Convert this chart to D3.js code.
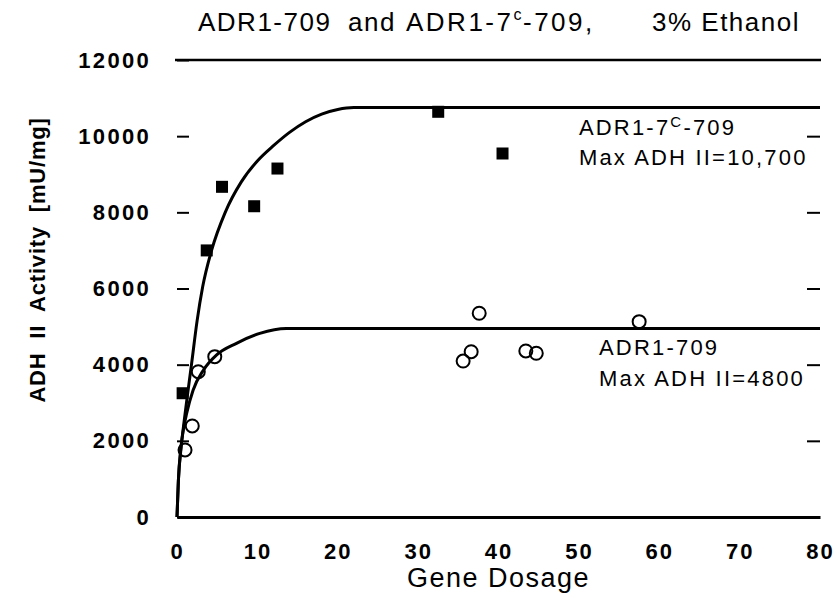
<!DOCTYPE html>
<html>
<head>
<meta charset="utf-8">
<script src="https://cdn.jsdelivr.net/npm/d3@7"></script>
<style>
  body { margin: 0; background: #fff; }
  text { font-family: "Liberation Sans", Arial, Helvetica, sans-serif; fill: #000; white-space: pre; }
</style>
</head>
<body>
<div class="chart"></div>
<script>
// ADR1-7c-709, filled squares
const gene7c = [0.7, 3.7, 5.6, 9.6, 12.5, 32.5, 40.5]
const act7c  = [3250, 7000, 8670, 8160, 9150, 10640, 9545]

// ADR1-709, open circles
const gene709 = [1.0, 1.9, 2.65, 4.7, 35.6, 36.6, 37.6, 43.4, 44.7, 57.5]
const act709  = [1760, 2390, 3815, 4210, 4095, 4340, 5350, 4360, 4300, 5130]

// fitted curves as drawn in the figure
const fit7cX = [0, 0.17, 0.5, 0.85, 1.3, 1.8, 2.5, 3.2, 4.3, 6, 8, 10, 12, 14, 16, 18, 20, 22, 80]
const fit7cY = [0, 950, 1800, 2450, 3200, 4000, 5150, 6050, 7000, 8000, 8800, 9350, 9750, 10100, 10380, 10580, 10700, 10750, 10750]
const fit709X = [0, 0.17, 0.5, 0.8, 1.2, 2, 3.3, 4.9, 7.4, 10.3, 13.6, 80]
const fit709Y = [0, 950, 1850, 2300, 2720, 3330, 3860, 4250, 4560, 4820, 4950, 4950]

const xTicks = [0, 10, 20, 30, 40, 50, 60, 70, 80]
const yTicks = [0, 2000, 4000, 6000, 8000, 10000, 12000]
const rightTicks = [2000, 4000, 6000, 8000, 10000]

const margin = ({top: 60, right: 20, bottom: 83, left: 177})
const width = 840 - margin.left - margin.right,
  height = 600 - margin.top - margin.bottom;

const svg = d3.select(".chart").append("svg")
  .attr("width", 840)
  .attr("height", 600)

const g = svg.append("g")
  .attr("transform", "translate(" + margin.left + "," + margin.top + ")")

const x = d3.scaleLinear().domain([0, 80]).range([0, width])
const y = d3.scaleLinear().domain([0, 12000]).range([height, 0])

// left ticks + labels
const yAxisGroup = g.append("g")
  .call(d3.axisLeft(y).tickValues(yTicks).tickSize(-12).tickPadding(26).tickFormat(d3.format("d")))
yAxisGroup.select(".domain").remove()
yAxisGroup.selectAll(".tick line").attr("stroke-width", 2)
yAxisGroup.selectAll("text")
  .attr("font-size", 22).attr("font-weight", "bold").attr("letter-spacing", 2.3)
  .style("font-family", "'Liberation Sans', Arial, sans-serif")

// right ticks
const rAxisGroup = g.append("g")
  .attr("transform", `translate(${width},0)`)
  .call(d3.axisRight(y).tickValues(rightTicks).tickSize(-13).tickFormat(""))
rAxisGroup.select(".domain").remove()
rAxisGroup.selectAll(".tick line").attr("stroke-width", 2)

// bottom axis
const xAxisGroup = g.append("g")
  .attr("transform", `translate(0,${height})`)
  .call(d3.axisBottom(x).tickValues(xTicks).tickSize(0).tickSizeOuter(0).tickPadding(26))
xAxisGroup.select(".domain").attr("stroke-width", 3)
xAxisGroup.selectAll("text")
  .attr("font-size", 22).attr("font-weight", "bold").attr("letter-spacing", 2)
  .style("font-family", "'Liberation Sans', Arial, sans-serif")

// top frame line
g.append("line")
  .attr("x1", x(0) - 2).attr("x2", x(80) + 1)
  .attr("y1", y(12000)).attr("y2", y(12000))
  .attr("stroke", "black").attr("stroke-width", 2.5)

// curves
const line = d3.line()
  .x(d => x(d[0]))
  .y(d => y(d[1]))
  .curve(d3.curveMonotoneX)

g.append("path")
  .datum(d3.zip(fit7cX, fit7cY))
  .attr("d", line)
  .attr("fill", "none").attr("stroke", "black").attr("stroke-width", 3)

g.append("path")
  .datum(d3.zip(fit709X, fit709Y))
  .attr("d", line)
  .attr("fill", "none").attr("stroke", "black").attr("stroke-width", 3)

// points
g.append("g").selectAll("rect")
  .data(d3.zip(gene7c, act7c))
  .join("rect")
  .attr("x", d => x(d[0]) - 6)
  .attr("y", d => y(d[1]) - 6)
  .attr("width", 12).attr("height", 12)
  .attr("fill", "black")

g.append("g").selectAll("circle")
  .data(d3.zip(gene709, act709))
  .join("circle")
  .attr("cx", d => x(d[0]))
  .attr("cy", d => y(d[1]))
  .attr("r", 6.5)
  .attr("fill", "none").attr("stroke", "black").attr("stroke-width", 2)

// labels on the curves
const lab1 = g.append("text").attr("x", x(50)).attr("y", y(10000) - 1)
  .attr("font-size", 22).attr("letter-spacing", 2.2)
lab1.append("tspan").text("ADR1-7")
lab1.append("tspan").text("C").attr("font-size", 15).attr("dy", -8)
lab1.append("tspan").text("-709").attr("dy", 8)
g.append("text").attr("x", x(50)).attr("y", y(9250))
  .attr("font-size", 22).attr("letter-spacing", 2.2)
  .text("Max ADH II=10,700")

g.append("text").attr("x", x(52.5)).attr("y", y(4250))
  .attr("font-size", 22).attr("letter-spacing", 2.2)
  .text("ADR1-709")
g.append("text").attr("x", x(52.5)).attr("y", y(3450))
  .attr("font-size", 22).attr("letter-spacing", 2.2)
  .text("Max ADH II=4800")

// title
const title = svg.append("text").attr("y", 31).attr("font-size", 26).attr("letter-spacing", 1.5)
title.append("tspan").attr("x", 198).text("ADR1-709")
title.append("tspan").attr("x", 348).text("and")
title.append("tspan").attr("x", 406).attr("letter-spacing", 2.5).text("ADR1-7")
title.append("tspan").text("c").attr("font-size", 16).attr("dy", -11)
title.append("tspan").text("-709,").attr("letter-spacing", 2.5).attr("dy", 11)
title.append("tspan").attr("x", 652).text("3% Ethanol")

// axis titles
svg.append("text")
  .attr("x", margin.left + x(40)).attr("y", 587)
  .attr("text-anchor", "middle")
  .attr("font-size", 27).attr("letter-spacing", 1.5)
  .text("Gene Dosage")

svg.append("text")
  .attr("transform", "translate(45,260) rotate(-90)")
  .attr("text-anchor", "middle")
  .attr("font-size", 22).attr("font-weight", "bold").attr("letter-spacing", 0.8)
  .text("ADH  II  Activity  [mU/mg]")
</script>
</body>
</html>
